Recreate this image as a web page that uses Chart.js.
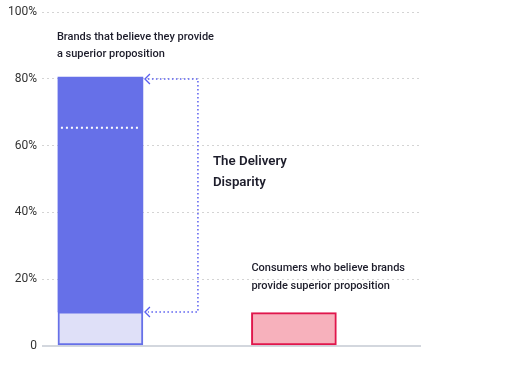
<!DOCTYPE html>
<html>
<head>
<meta charset="utf-8">
<script src="https://cdn.jsdelivr.net/npm/chart.js@4/dist/chart.umd.min.js"></script>
<style>
html,body{margin:0;padding:0;background:#fff;}
#wrap{width:512px;height:366px;}
</style>
</head>
<body>
<div id="wrap"><canvas id="c" width="512" height="366"></canvas></div>
<script>
// ---- data ----
const categories = ['Brands', 'Consumers'];
const brandValues = [80.6, null];
const consumerValues = [10.2, 10];
const markerValue = 65.4;
const yTicks = [0, 20, 40, 60, 80, 100];
const yTickLabels = ['0', '20%', '40%', '60%', '80%', '100%'];
const brandLabel = ['Brands that believe they provide', 'a superior proposition'];
const consumerLabel = ['Consumers who believe brands', 'provide superior proposition'];
const gapLabel = ['The Delivery', 'Disparity'];

const FONT = 'Roboto, "Noto Sans", sans-serif';
const INK = '#1d1d2b';
const ARROW = '#5a5ff0';

const gapData = categories.map((c, i) => brandValues[i] == null ? null : {x: i, y: [consumerValues[i], brandValues[i]]}).filter(d => d);
const baseData = categories.map((c, i) => ({x: i, y: [0, consumerValues[i]]}));

const annot = {
  id: 'annot',
  afterDatasetsDraw(chart) {
    const ctx = chart.ctx;
    const y = chart.scales.y;
    const bar0 = chart.getDatasetMeta(0).data[0];
    const bar1 = chart.getDatasetMeta(1).data[1];
    const l0 = bar0.x - bar0.width / 2, r0 = bar0.x + bar0.width / 2;
    const l1 = bar1.x - bar1.width / 2;
    ctx.save();
    // white dotted marker inside brand bar
    const ym = y.getPixelForValue(markerValue);
    ctx.strokeStyle = '#ffffff';
    ctx.lineWidth = 2;
    ctx.setLineDash([2, 3]);
    ctx.beginPath(); ctx.moveTo(l0 + 3, ym); ctx.lineTo(r0 - 3, ym); ctx.stroke();

    // bracket arrow
    const yTop = y.getPixelForValue(brandValues[0]) + 2;
    const yBot = y.getPixelForValue(consumerValues[0]);
    const xTip = r0 + 2;
    const xV = r0 + 55;
    ctx.strokeStyle = ARROW;
    ctx.lineWidth = 1.5;
    ctx.setLineDash([1.5, 2.5]);
    ctx.beginPath();
    ctx.moveTo(xTip + 3, yTop); ctx.lineTo(xV, yTop); ctx.lineTo(xV, yBot); ctx.lineTo(xTip + 3, yBot);
    ctx.stroke();
    ctx.setLineDash([]);
    ctx.lineWidth = 1.3;
    [yTop, yBot].forEach(yy => {
      ctx.beginPath();
      ctx.moveTo(xTip + 5, yy - 5); ctx.lineTo(xTip, yy); ctx.lineTo(xTip + 5, yy + 5);
      ctx.stroke();
    });

    // texts
    ctx.fillStyle = INK;
    ctx.textAlign = 'left';
    ctx.textBaseline = 'middle';
    ctx.font = '500 11px ' + FONT;
    brandLabel.forEach((t, i) => ctx.fillText(t, l0 - 1, yTop - 42 + i * 17.5));
    consumerLabel.forEach((t, i) => ctx.fillText(t, l1, y.getPixelForValue(consumerValues[1]) - 44 + i * 17.5));
    ctx.font = '600 13.3px ' + FONT;
    const yMid = y.getPixelForValue((brandValues[0] + consumerValues[0]) / 2);
    gapLabel.forEach((t, i) => ctx.fillText(t, xV + 15, yMid - 33 + i * 21.5));
    ctx.restore();
  }
};

new Chart(document.getElementById('c'), {
  type: 'bar',
  data: {
    datasets: [
      {
        label: 'Gap',
        data: gapData,
        backgroundColor: '#6670E8',
        borderColor: '#6670E8',
        borderWidth: 0,
        borderSkipped: false,
        barThickness: 85
      },
      {
        label: 'Consumers',
        data: baseData,
        backgroundColor: ['#DFE0F8', '#F7B1BC'],
        borderColor: ['#6670E8', '#E0174C'],
        borderWidth: 2,
        borderSkipped: false,
        barThickness: 85
      }
    ]
  },
  options: {
    responsive: false,
    animation: false,
    layout: {padding: {top: 10, right: 91, bottom: 20, left: 0}},
    plugins: {legend: {display: false}, tooltip: {enabled: false}},
    scales: {
      x: {
        type: 'linear',
        stacked: true,
        offset: false,
        min: -0.302,
        max: 1.657,
        display: false
      },
      y: {
        min: 0,
        max: 100,
        afterFit(s) { s.width = 42; },
        afterBuildTicks(s) { s.ticks = yTicks.map(v => ({value: v})); },
        ticks: {
          padding: 5,
          color: '#333',
          font: {family: FONT, size: 12},
          callback: (v) => yTickLabels[yTicks.indexOf(v)]
        },
        grid: {
          drawTicks: false,
          color: (c) => c.tick && c.tick.value === 0 ? '#D3D7DE' : '#D4D4D4',
          lineWidth: (c) => c.tick && c.tick.value === 0 ? 2 : 1
        },
        border: {
          display: false,
          dash: (c) => c.tick && c.tick.value === 0 ? [] : [2, 3]
        }
      }
    }
  },
  plugins: [annot]
});
</script>
</body>
</html>
